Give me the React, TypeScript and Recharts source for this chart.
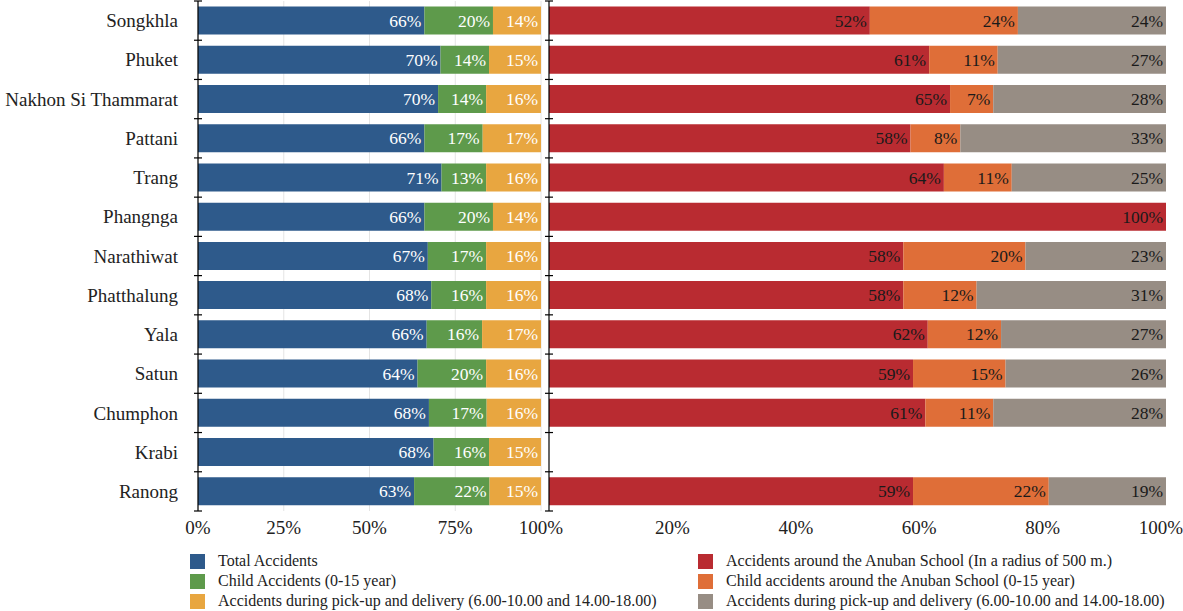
import { BarChart, Bar, XAxis, YAxis, CartesianGrid, LabelList } from 'recharts';

const provinces = [
  'Songkhla', 'Phuket', 'Nakhon Si Thammarat', 'Pattani', 'Trang', 'Phangnga', 'Narathiwat',
  'Phatthalung', 'Yala', 'Satun', 'Chumphon', 'Krabi', 'Ranong',
];

// left block (province totals)
const totalAcc = [66, 70, 70, 66, 71, 66, 67, 68, 66, 64, 68, 68, 63];
const childAcc = [20, 14, 14, 17, 13, 20, 17, 16, 16, 20, 17, 16, 22];
const pickupAcc = [14, 15, 16, 17, 16, 14, 16, 16, 17, 16, 16, 15, 15];

// right block (around the Anuban School) - Krabi has no data
const schoolAcc = [52, 61, 65, 58, 64, 100, 58, 58, 62, 59, 61, null, 59];
const schoolChild = [24, 11, 7, 8, 11, 0, 20, 12, 12, 15, 11, null, 22];
const schoolPickup = [24, 27, 28, 33, 25, 0, 23, 31, 27, 26, 28, null, 19];

const leftTicks = [0, 0.25, 0.5, 0.75, 1];
const rightTicks = [0.2, 0.4, 0.6, 0.8, 1];

const leftSeries = [
  { key: 'total', name: 'Total Accidents', color: '#2E5A8B' },
  { key: 'child', name: 'Child Accidents (0-15 year)', color: '#5E9A4B' },
  { key: 'pickup', name: 'Accidents during pick-up and delivery (6.00-10.00 and 14.00-18.00)', color: '#E8A640' },
];
const rightSeries = [
  { key: 'school', name: 'Accidents around the Anuban School (In a radius of 500 m.)', color: '#B92B31' },
  { key: 'schoolChild', name: 'Child accidents around the Anuban School (0-15 year)', color: '#DF6E38' },
  { key: 'schoolPickup', name: 'Accidents during pick-up and delivery (6.00-10.00 and 14.00-18.00)', color: '#978D84' },
];

const data = provinces.map((p, i) => ({
  province: p,
  total: totalAcc[i],
  child: childAcc[i],
  pickup: pickupAcc[i],
  school: schoolAcc[i],
  schoolChild: schoolChild[i],
  schoolPickup: schoolPickup[i],
}));

const FONT = '"Liberation Serif", "Times New Roman", serif';
const pct = (v: number) => `${Math.round(v * 100)}%`;

// category tick: province name plus small crosses on the band boundaries
const makeRowTick = (showText: boolean) => (props: any) => {
  const { x, y, payload, index, visibleTicksCount } = props;
  const half = payload && payload.offset ? payload.offset : 510 / 13 / 2;
  const last = index === visibleTicksCount - 1;
  return (
    <g>
      <line x1={x - 4} x2={x + 4} y1={y - half} y2={y - half} stroke="#000" strokeWidth={1.2} />
      {last && <line x1={x - 4} x2={x + 4} y1={y + half} y2={y + half} stroke="#000" strokeWidth={1.2} />}
      {showText && (
        <text x={x - 20} y={y} dy="0.35em" textAnchor="end" fill="#222" fontSize={19} fontFamily={FONT}>
          {payload.value}
        </text>
      )}
    </g>
  );
};

const makeLabel = (fill: string) => (props: any) => {
  const { x, y, width, height, value } = props;
  if (value == null || value === 0) return null;
  return (
    <text x={x + width - 3} y={y + height / 2} dy="0.35em" textAnchor="end"
      fill={fill} fontSize={17.5} fontFamily={FONT}>
      {`${value}%`}
    </text>
  );
};

const CHART_H = 545;

function LegendBlock({ items, left }: { items: typeof leftSeries; left: number }) {
  return (
    <div style={{ position: 'absolute', left, top: 551, fontFamily: FONT, fontSize: 16, color: '#222' }}>
      {items.map((s) => (
        <div key={s.key} style={{ display: 'flex', alignItems: 'center', height: 20, whiteSpace: 'nowrap' }}>
          <span style={{ display: 'inline-block', width: 15, height: 15, background: s.color, marginRight: 13 }} />
          {s.name}
        </div>
      ))}
    </div>
  );
}

export default function App() {
  return (
    <div style={{ position: 'absolute', left: 0, top: 0, width: 1183, height: 611, background: '#fff', overflow: 'hidden' }}>
      <div style={{ position: 'absolute', left: 0, top: 0 }}>
        <BarChart width={565} height={CHART_H} data={data} layout="vertical" stackOffset="expand"
          margin={{ top: 1, right: 24, left: 0, bottom: 0 }} barCategoryGap="14%">
          <CartesianGrid horizontal={false} stroke="#e4e4e4" />
          <XAxis type="number" domain={[0, 1]} ticks={leftTicks} tickFormatter={pct}
            axisLine={false} tickLine={false} height={34} tickMargin={4}
            tick={{ fill: '#222', fontSize: 19, fontFamily: FONT }} />
          <YAxis type="category" dataKey="province" width={198} tickLine={false} tickSize={0} tickMargin={0}
            axisLine={{ stroke: '#000', strokeWidth: 1.2 }} tick={makeRowTick(true)} interval={0} />
          {leftSeries.map((s) => (
            <Bar key={s.key} dataKey={s.key} stackId="a" fill={s.color} isAnimationActive={false}>
              <LabelList dataKey={s.key} content={makeLabel('#fff')} />
            </Bar>
          ))}
        </BarChart>
      </div>
      <div style={{ position: 'absolute', left: 541, top: 0 }}>
        <BarChart width={642} height={CHART_H} data={data} layout="vertical" stackOffset="expand"
          margin={{ top: 1, right: 17, left: 0, bottom: 0 }} barCategoryGap="14%">
          <XAxis type="number" domain={[0, 1]} ticks={rightTicks} tickFormatter={pct}
            axisLine={false} tickLine={false} height={34} tickMargin={4}
            tick={{ fill: '#222', fontSize: 19, fontFamily: FONT }} />
          <YAxis type="category" dataKey="province" width={8} tickLine={false} tickSize={0} tickMargin={0}
            axisLine={{ stroke: '#000', strokeWidth: 1.2 }} tick={makeRowTick(false)} interval={0} />
          {rightSeries.map((s) => (
            <Bar key={s.key} dataKey={s.key} stackId="b" fill={s.color} isAnimationActive={false}>
              <LabelList dataKey={s.key} content={makeLabel('#1a1a1a')} />
            </Bar>
          ))}
        </BarChart>
      </div>
      <LegendBlock items={leftSeries} left={190} />
      <LegendBlock items={rightSeries} left={698} />
    </div>
  );
}
